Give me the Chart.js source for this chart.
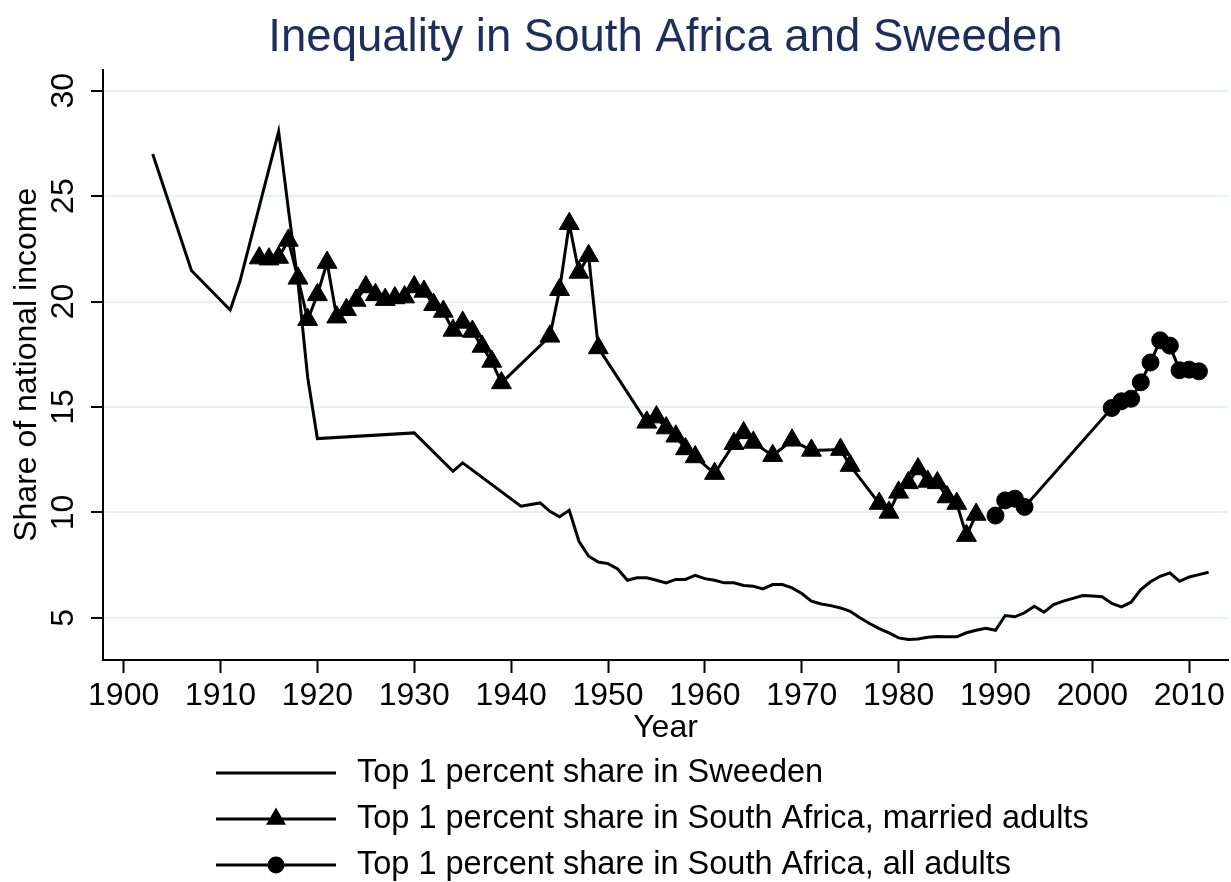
<!DOCTYPE html>
<html>
<head>
<meta charset="utf-8">
<script src="https://cdn.jsdelivr.net/npm/chart.js@4"></script>
<style>
  html, body { margin: 0; padding: 0; background: #fff; }
</style>
</head>
<body>
<canvas id="chart" width="1231" height="882"></canvas>
<script>
// Sweden, top 1 percent share
const yearsSweden = [1903, 1907, 1911, 1912, 1916, 1917, 1918, 1919, 1920, 1930, 1934, 1935, 1941, 1943, 1944, 1945, 1946, 1947, 1948, 1949,
  1950, 1951, 1952, 1953, 1954, 1955, 1956, 1957, 1958, 1959, 1960, 1961, 1962, 1963, 1964, 1965, 1966, 1967, 1968, 1969,
  1970, 1971, 1972, 1973, 1974, 1975, 1976, 1977, 1978, 1979, 1980, 1981, 1982, 1983, 1984, 1985, 1986, 1987, 1988, 1989,
  1990, 1991, 1992, 1993, 1994, 1995, 1996, 1997, 1998, 1999, 2000, 2001, 2002, 2003, 2004, 2005, 2006, 2007, 2008, 2009,
  2010, 2011, 2012]
const shareSweden = [27.0, 21.47, 19.6, 20.95, 28.06, 24.4, 20.9, 16.4, 13.5, 13.77, 11.95, 12.35, 10.29, 10.45, 10.05, 9.79, 10.1, 8.63, 7.92, 7.65,
  7.57, 7.32, 6.78, 6.9, 6.9, 6.78, 6.66, 6.82, 6.82, 7.02, 6.86, 6.78, 6.66, 6.66, 6.53, 6.5, 6.37, 6.58, 6.58, 6.42,
  6.15, 5.79, 5.66, 5.58, 5.47, 5.31, 5.0, 4.73, 4.49, 4.29, 4.05, 3.97, 4.0, 4.08, 4.11, 4.1, 4.1, 4.29, 4.41, 4.5,
  4.41, 5.11, 5.05, 5.24, 5.55, 5.27, 5.63, 5.79, 5.92, 6.06, 6.03, 6.0, 5.68, 5.52, 5.74, 6.34, 6.71, 6.97, 7.13, 6.73,
  6.94, 7.05, 7.16]

// South Africa, married adults
const yearsMarried = [1914, 1915, 1916, 1917, 1918, 1919, 1920, 1921, 1922, 1923, 1924, 1925, 1926, 1927, 1928, 1929, 1930, 1931, 1932, 1933,
  1934, 1935, 1936, 1937, 1938, 1939, 1944, 1945, 1946, 1947, 1948, 1949, 1954, 1955, 1956, 1957, 1958, 1959, 1961, 1963,
  1964, 1965, 1967, 1969, 1971, 1974, 1975, 1978, 1979, 1980, 1981, 1982, 1983, 1984, 1985, 1986, 1987, 1988]
const shareMarried = [22.06, 22.01, 22.09, 22.9, 21.1, 19.14, 20.32, 21.85, 19.26, 19.61, 20.05, 20.69, 20.32, 20.09, 20.17, 20.21, 20.69, 20.48, 19.85, 19.53,
  18.63, 19.01, 18.58, 17.87, 17.16, 16.14, 18.35, 20.56, 23.69, 21.38, 22.17, 17.8, 14.27, 14.52, 14.0, 13.61, 13.01, 12.63, 11.84, 13.26,
  13.77, 13.32, 12.69, 13.42, 12.94, 12.98, 12.22, 10.42, 10.0, 10.95, 11.4, 12.06, 11.47, 11.4, 10.73, 10.42, 8.9, 9.9]

// South Africa, all adults
const yearsAll = [1990, 1991, 1992, 1993, 2002, 2003, 2004, 2005, 2006, 2007, 2008, 2009, 2010, 2011]
const shareAll = [9.85, 10.57, 10.65, 10.26, 14.95, 15.27, 15.39, 16.17, 17.11, 18.16, 17.91, 16.74, 16.77, 16.69]

const xTicks = [1900, 1910, 1920, 1930, 1940, 1950, 1960, 1970, 1980, 1990, 2000, 2010]
const yTicks = [5, 10, 15, 20, 25, 30]
const seriesNames = [
  'Top 1 percent share in Sweeden',
  'Top 1 percent share in South Africa, married adults',
  'Top 1 percent share in South Africa, all adults'
]

function toPoints(xs, ys) {
  return xs.map((x, i) => ({x: x, y: ys[i]}))
}

Chart.defaults.font.family = "'Liberation Sans', Arial, sans-serif"
Chart.defaults.color = '#000'

// legend drawn as a vertical list like Stata's
const stataLegend = {
  id: 'stataLegend',
  afterDraw(chart) {
    const ctx = chart.ctx
    ctx.save()
    chart.data.datasets.forEach((ds, i) => {
      const y = 773 + i * 46
      ctx.strokeStyle = '#000'
      ctx.fillStyle = '#000'
      ctx.lineWidth = 3
      ctx.beginPath()
      ctx.moveTo(216, y)
      ctx.lineTo(336, y)
      ctx.stroke()
      const r = ds.pointRadius
      if (ds.pointStyle === 'triangle' && r > 0) {
        ctx.beginPath()
        ctx.moveTo(276, y - r)
        ctx.lineTo(276 + r * Math.sin(2 * Math.PI / 3), y + r / 2)
        ctx.lineTo(276 - r * Math.sin(2 * Math.PI / 3), y + r / 2)
        ctx.closePath()
        ctx.fill()
      } else if (ds.pointStyle === 'circle' && r > 0) {
        ctx.beginPath()
        ctx.arc(276, y, r, 0, Math.PI * 2)
        ctx.fill()
      }
      ctx.font = "32.5px 'Liberation Sans', Arial, sans-serif"
      ctx.textBaseline = 'middle'
      ctx.textAlign = 'left'
      ctx.fillText(ds.label, 357, y)
    })
    ctx.restore()
  }
}

const ctx = document.getElementById('chart')

let chartLine = new Chart(ctx, {
  type: 'line',
  data: {
    datasets: [
      {
        label: seriesNames[0],
        data: toPoints(yearsSweden, shareSweden),
        borderColor: '#000',
        backgroundColor: '#000',
        borderWidth: 3,
        pointRadius: 0,
        pointStyle: 'line',
        tension: 0
      },
      {
        label: seriesNames[1],
        data: toPoints(yearsMarried, shareMarried),
        borderColor: '#000',
        backgroundColor: '#000',
        borderWidth: 3,
        pointStyle: 'triangle',
        pointRadius: 11.5,
        pointBorderWidth: 1,
        pointBackgroundColor: '#000',
        tension: 0
      },
      {
        label: seriesNames[2],
        data: toPoints(yearsAll, shareAll),
        borderColor: '#000',
        backgroundColor: '#000',
        borderWidth: 3,
        pointStyle: 'circle',
        pointRadius: 8.5,
        pointBorderWidth: 1,
        pointBackgroundColor: '#000',
        tension: 0
      }
    ]
  },
  options: {
    responsive: false,
    animation: false,
    layout: {autoPadding: false, padding: {left: 0, right: 3, top: 0, bottom: 0}},
    plugins: {
      legend: {display: false},
      tooltip: {enabled: false},
      title: {
        display: true,
        fullSize: false,
        text: 'Inequality in South Africa and Sweeden',
        color: '#1d2d5c',
        font: {size: 45.5, weight: 'normal'},
        padding: {top: 11, bottom: 4}
      }
    },
    scales: {
      x: {
        type: 'linear',
        min: 1897.87,
        max: 2014,
        afterBuildTicks: (scale) => { scale.ticks = xTicks.map(v => ({value: v})) },
        afterFit: (scale) => {
          scale.height = 222
          scale.paddingLeft = 0
          scale.paddingRight = 0
        },
        border: {display: true, color: '#000', width: 2},
        grid: {drawOnChartArea: false, drawTicks: true, tickLength: 13, tickColor: '#000', tickWidth: 2},
        ticks: {
          autoSkip: false,
          maxRotation: 0,
          minRotation: 0,
          padding: 4,
          font: {size: 32},
          callback: (value) => String(value)
        },
        title: {
          display: true,
          text: 'Year',
          font: {size: 32},
          padding: {top: 0, bottom: 135}
        }
      },
      y: {
        type: 'linear',
        min: 3,
        max: 31,
        afterBuildTicks: (scale) => { scale.ticks = yTicks.map(v => ({value: v})) },
        afterFit: (scale) => { scale.width = 103 },
        border: {display: true, color: '#000', width: 2},
        grid: {color: '#e8f0f2', lineWidth: 2, drawTicks: true, tickLength: 12, tickColor: '#000', tickWidth: 2},
        ticks: {
          minRotation: 90,
          maxRotation: 90,
          crossAlign: 'center',
          padding: 9,
          font: {size: 32},
          callback: (value) => String(value)
        },
        title: {
          display: true,
          text: 'Share of national income',
          font: {size: 32},
          padding: {top: 8, bottom: 0}
        }
      }
    }
  },
  plugins: [stataLegend]
})
</script>
</body>
</html>
